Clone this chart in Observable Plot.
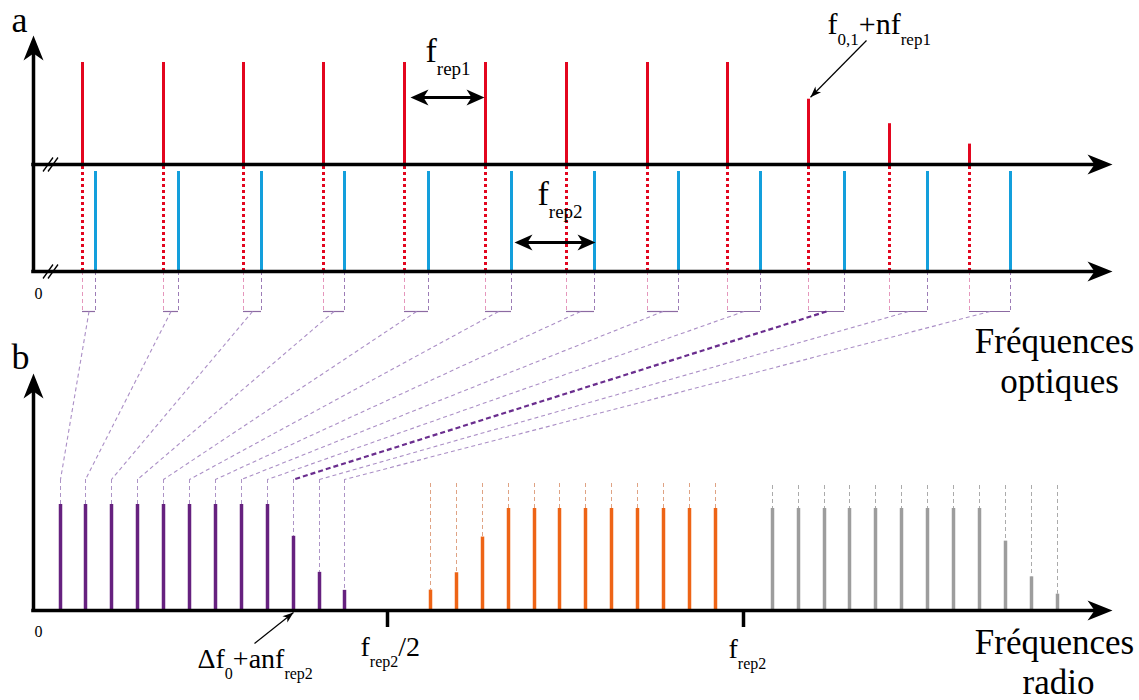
<!DOCTYPE html>
<html>
<head>
<meta charset="utf-8">
<script src="https://cdn.jsdelivr.net/npm/d3@7"></script>
<script src="https://cdn.jsdelivr.net/npm/@observablehq/plot@0.6"></script>
<style>
  html, body { margin: 0; padding: 0; background: #fff; }
  #chart svg { display: block; }
  #chart svg text { font-family: "Liberation Serif", "Times New Roman", serif; }
</style>
</head>
<body>
<div id="chart"></div>
<script>
// ---------------- DATA ----------------
// Panel a: optical comb 1 (red) and comb 2 (blue), frequency in diagram units
const redFreq  = [82, 163, 243, 323, 404, 485, 566, 647, 727, 808, 889, 969];
const redAmp   = [1, 1, 1, 1, 1, 1, 1, 1, 1, 0.64, 0.40, 0.20];
const blueFreq = [95, 178, 261, 344, 428, 511, 594, 678, 760, 844, 927, 1010];
const blueAmp  = [1, 1, 1, 1, 1, 1, 1, 1, 1, 1, 1, 1];

// Panel b: radio-frequency beat notes
const purpleFreq = [60, 85, 111, 137, 163, 189, 215, 241, 267, 293, 319, 344];
const purpleAmp  = [1, 1, 1, 1, 1, 1, 1, 1, 1, 0.70, 0.36, 0.19];
const orangeFreq = [430, 456, 482, 508, 534, 559, 585, 611, 637, 663, 689, 715];
const orangeAmp  = [0.20, 0.37, 0.72, 1, 1, 1, 1, 1, 1, 1, 1, 1];
const grayFreq   = [772, 798, 824, 849, 875, 901, 927, 953, 979, 1005, 1031, 1057];
const grayAmp    = [1, 1, 1, 1, 1, 1, 1, 1, 1, 0.68, 0.33, 0.16];

const highlightedPair = 9;          // the beat pair drawn with the bold link
const tickFreq   = [387, 743];
const tickLabels = ["f_{rep2}/2", "f_{rep2}"];

// ---------------- LAYOUT ----------------
const W = 1139, H = 700;
const axisX = 33, axisTip = 1112;
const aTop = 164, aBot = 271, aAmpPx = 102, blueAmpPx = 100;
const aArrowTip = 35, bArrowTip = 373;
const bracketY = 311;
const bBase = 610, purpleAmpPx = 106, bAmpPx = 102;
const extPurple = 479, extOrange = 483, extGray = 485;

const C = {
  red: "#e3061f", blue: "#139fdc", purple: "#66217f", orange: "#ee6416", gray: "#9d9d9d",
  pink: "#e597bc", lilac: "#9c7cb6", bracket: "#8c6aa2", link: "#ab8fc6", linkBold: "#6a2d8e",
  purpleExt: "#ad94c6", orangeExt: "#dfa384", grayExt: "#ababab"
};
const FONT = "'Liberation Serif', 'Times New Roman', serif";

const red    = redFreq.map((f, i) => ({f, top: aTop - redAmp[i] * aAmpPx}));
const blue   = blueFreq.map((f, i) => ({f, top: aBot - blueAmp[i] * blueAmpPx}));
const purple = purpleFreq.map((f, i) => ({f, top: bBase - purpleAmp[i] * purpleAmpPx}));
const orange = orangeFreq.map((f, i) => ({f, top: bBase - orangeAmp[i] * bAmpPx}));
const gray   = grayFreq.map((f, i) => ({f, top: bBase - grayAmp[i] * bAmpPx}));
const pairs  = redFreq.map((f, i) => ({r: f, b: blueFreq[i], mid: (f + blueFreq[i]) / 2, p: purpleFreq[i], bold: i === highlightedPair}));

// stealth arrowhead symbol, tip at the origin pointing up
const stealth = (L, Wd, N) => ({
  draw(ctx) { ctx.moveTo(0, 0); ctx.lineTo(Wd, L); ctx.lineTo(0, L - N); ctx.lineTo(-Wd, L); ctx.closePath(); }
});
const bigHead = stealth(25, 10, 7);
const midHead = stealth(18, 8, 5);
const smallHead = stealth(11, 4, 3);

const axisHeads = [
  {x: axisTip, y: aTop, rot: 90}, {x: axisTip, y: aBot, rot: 90}, {x: axisTip, y: bBase, rot: 90},
  {x: axisX, y: aArrowTip, rot: 0}, {x: axisX, y: bArrowTip, rot: 0}
];

// spacing arrows: f_rep1 between red 4 and 5, f_rep2 between blue 5 and 6
const spacingArrows = [
  {x1: redFreq[4] + 6, x2: redFreq[5] - 1, y: 97},
  {x1: blueFreq[5] + 3, x2: blueFreq[6] + 1, y: 242}
];
const spacingHeads = spacingArrows.flatMap(a => [{x: a.x1, y: a.y, rot: -90}, {x: a.x2, y: a.y, rot: 90}]);

// pointer arrows (annotation -> line)
const pointers = [
  {x1: 866, y1: 40, x2: redFreq[9] + 2, y2: red[9].top - 2},
  {x1: 254, y1: 643, x2: purpleFreq[9], y2: bBase + 2}
].map(d => ({...d, rot: Math.atan2(d.x2 - d.x1, -(d.y2 - d.y1)) * 180 / Math.PI}));

const breaks = [aTop, aBot].flatMap(y => [-2.5, 2.5].map(o => ({x1: 45 + o, y1: y + 7, x2: 55 + o, y2: y - 7})));

const richTexts = [
  {t: "f_{rep1}", x: 425, y: 61, size: 34},
  {t: "f_{rep2}", x: 537, y: 204, size: 34},
  {t: "f_{0,1}+nf_{rep1}", x: 827, y: 33, size: 30},
  {t: "Δf_{0}+anf_{rep2}", x: 197, y: 667, size: 28}
];
const tickTexts = [
  {t: tickLabels[0], x: tickFreq[0] - 27, y: 655, size: 28},
  {t: tickLabels[1], x: tickFreq[1] - 15, y: 657, size: 28}
];
const axisTitles = [
  {t: "Fréquences", x: 1054, y: 352}, {t: "optiques", x: 1059, y: 392},
  {t: "Fréquences", x: 1054, y: 653}, {t: "radio", x: 1058, y: 693}
];
const panelLetters = [{t: "a", x: 11, y: 31}, {t: "b", x: 11, y: 368}];
const zeros = [{t: "0", x: 34, y: 298}, {t: "0", x: 34, y: 636}];

const textMark = (data, size, anchor = "start") => Plot.text(data, {
  x: "x", y: "y", text: "t", fontSize: size, fontFamily: FONT, fill: "black",
  textAnchor: anchor, lineAnchor: "bottom"
});

const svg = Plot.plot({
  width: W, height: H,
  marginTop: 0, marginRight: 0, marginBottom: 0, marginLeft: 0,
  x: {domain: [0, W], range: [0, W], axis: null},
  y: {domain: [0, H], range: [0, H], axis: null},
  style: {background: "white", overflow: "visible", fontFamily: FONT},
  marks: [
    // connection lines from panel a down to the beat notes
    Plot.ruleX(red,  {x: "f", y1: aBot, y2: bracketY, stroke: C.pink,  strokeWidth: 1, strokeDasharray: "4,3"}),
    Plot.ruleX(blue, {x: "f", y1: aBot, y2: bracketY, stroke: C.lilac, strokeWidth: 1, strokeDasharray: "4,3"}),
    Plot.ruleY(pairs, {y: bracketY, x1: "r", x2: "b", stroke: C.bracket, strokeWidth: 1.2}),
    Plot.link(pairs.filter(d => !d.bold), {x1: "mid", y1: bracketY, x2: "p", y2: extPurple, stroke: C.link, strokeWidth: 1.1, strokeDasharray: "4,3"}),
    Plot.link(pairs.filter(d => d.bold), {x1: "mid", y1: bracketY, x2: "p", y2: extPurple, stroke: C.linkBold, strokeWidth: 2.2, strokeDasharray: "5,3"}),
    Plot.ruleX(purple, {x: "f", y1: extPurple, y2: "top", stroke: C.purpleExt, strokeWidth: 1, strokeDasharray: "4,3"}),
    Plot.ruleX(orange, {x: "f", y1: extOrange, y2: "top", stroke: C.orangeExt, strokeWidth: 1, strokeDasharray: "4,3"}),
    Plot.ruleX(gray,   {x: "f", y1: extGray,   y2: "top", stroke: C.grayExt,   strokeWidth: 1, strokeDasharray: "4,3"}),

    // panel a combs
    Plot.ruleX(red,  {x: "f", y1: aTop, y2: "top", stroke: C.red, strokeWidth: 3}),
    Plot.ruleX(red,  {x: "f", y1: aTop + 2, y2: aBot, stroke: C.red, strokeWidth: 3, strokeDasharray: "3,3"}),
    Plot.ruleX(blue, {x: "f", y1: aBot, y2: "top", stroke: C.blue, strokeWidth: 3}),

    // panel b beat notes
    Plot.ruleX(purple, {x: "f", y1: bBase, y2: "top", stroke: C.purple, strokeWidth: 3.5}),
    Plot.ruleX(orange, {x: "f", y1: bBase, y2: "top", stroke: C.orange, strokeWidth: 3.5}),
    Plot.ruleX(gray,   {x: "f", y1: bBase, y2: "top", stroke: C.gray,   strokeWidth: 3.5}),

    // axes
    Plot.ruleY([aTop, aBot, bBase], {y: d => d, x1: axisX - 1.75, x2: axisTip - 16, stroke: "black", strokeWidth: 3.5}),
    Plot.ruleX([{y1: aBot + 1.75, y2: aArrowTip + 16}, {y1: bBase + 1.75, y2: bArrowTip + 16}], {x: axisX, y1: "y1", y2: "y2", stroke: "black", strokeWidth: 3.5}),
    Plot.dot(axisHeads, {x: "x", y: "y", rotate: "rot", symbol: bigHead, fill: "black", stroke: "none"}),
    Plot.ruleX(tickFreq, {x: d => d, y1: bBase, y2: bBase + 17, stroke: "black", strokeWidth: 3.5}),
    Plot.link(breaks, {x1: "x1", y1: "y1", x2: "x2", y2: "y2", stroke: "black", strokeWidth: 1.3}),

    // spacing arrows
    Plot.ruleY(spacingArrows, {y: "y", x1: d => d.x1 + 10, x2: d => d.x2 - 10, stroke: "black", strokeWidth: 3}),
    Plot.dot(spacingHeads, {x: "x", y: "y", rotate: "rot", symbol: midHead, fill: "black", stroke: "none"}),

    // pointer arrows
    Plot.link(pointers, {x1: "x1", y1: "y1", x2: "x2", y2: "y2", stroke: "black", strokeWidth: 1.2}),
    Plot.dot(pointers, {x: "x2", y: "y2", rotate: "rot", symbol: smallHead, fill: "black", stroke: "none"}),

    // texts
    ...richTexts.map(d => textMark([d], d.size)),
    ...tickTexts.map(d => textMark([d], d.size)),
    textMark(axisTitles, 35, "middle"),
    textMark(panelLetters, 36),
    textMark(zeros, 16)
  ]
});

document.getElementById("chart").appendChild(svg);

// turn "x_{sub}" markup into real subscripts
const NS = "http://www.w3.org/2000/svg";
svg.querySelectorAll("text").forEach(t => {
  const raw = t.textContent;
  if (!raw.includes("_{")) return;
  const holder = t.closest("[font-size]");
  const main = holder ? parseFloat(holder.getAttribute("font-size")) : 28;
  const sub = Math.round(main * 0.57), shift = Math.round(main * 0.38);
  t.textContent = "";
  let inSub = false;
  for (const tok of raw.split(/(_\{[^}]*\})/)) {
    if (!tok) continue;
    const ts = document.createElementNS(NS, "tspan");
    if (tok.startsWith("_{")) {
      ts.textContent = tok.slice(2, -1);
      ts.setAttribute("font-size", sub);
      if (!inSub) ts.setAttribute("dy", shift);
      inSub = true;
    } else {
      ts.textContent = tok;
      ts.setAttribute("font-size", main);
      if (inSub) ts.setAttribute("dy", -shift);
      inSub = false;
    }
    t.appendChild(ts);
  }
});
</script>
</body>
</html>
